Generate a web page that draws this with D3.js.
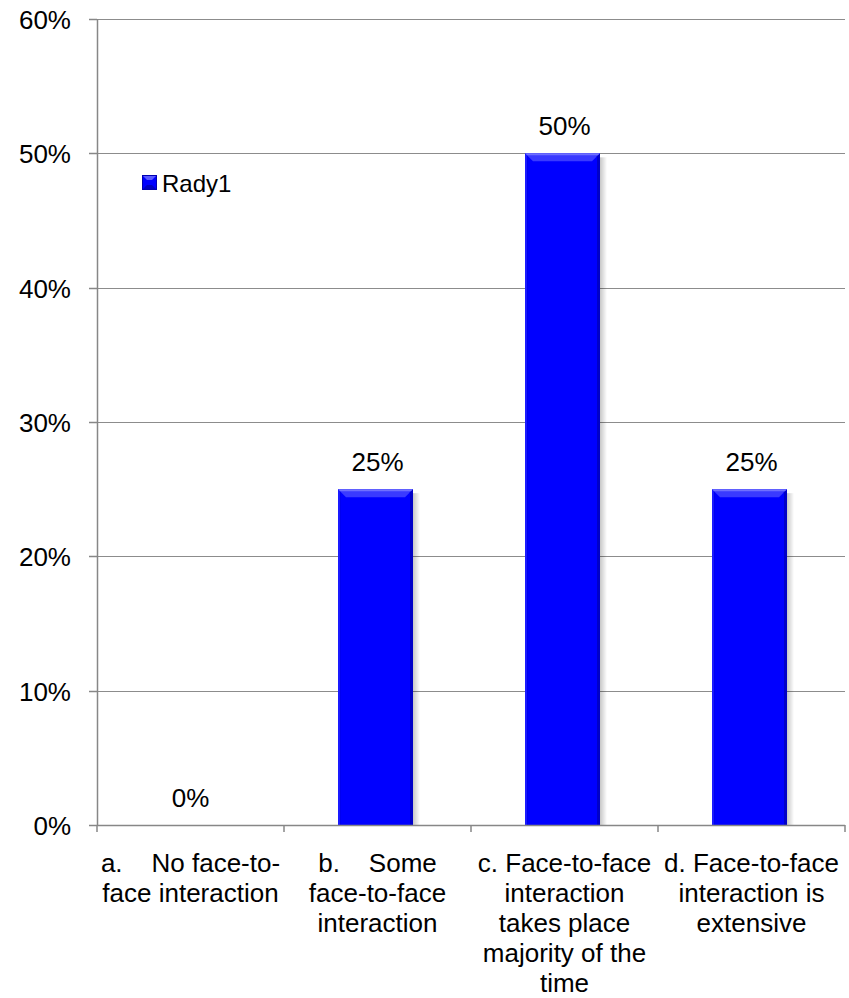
<!DOCTYPE html>
<html><head><meta charset="utf-8">
<script src="https://cdn.jsdelivr.net/npm/d3@7"></script>
<style>body{margin:0;background:#fff;}svg{display:block;font-family:"Liberation Sans",Arial,sans-serif;}</style>
</head><body>
<script>
const categories = [
  ["a.    No face-to-", "face interaction"],
  ["b.    Some", "face-to-face", "interaction"],
  ["c. Face-to-face", "interaction", "takes place", "majority of the", "time"],
  ["d. Face-to-face", "interaction is", "extensive"]
];
const values = [0, 0.25, 0.50, 0.25];
const valueLabels = ["0%", "25%", "50%", "25%"];
const yTicks = [0, 0.1, 0.2, 0.3, 0.4, 0.5, 0.6];
const seriesName = "Rady1";

(function() {
const W = 849, H = 998;
const svg = d3.select("body").append("svg").attr("width", W).attr("height", H);
const mLeft = 97, mRight = 845, mTop = 19, mBottom = 825;
const FS = 26;
const x = d3.scaleBand().domain(d3.range(categories.length)).range([mLeft, mRight]).paddingInner(0).paddingOuter(0);
const y = d3.scaleLinear().domain([0, 0.6]).range([mBottom, mTop]);

const defs = svg.append("defs");
const sh = defs.append("linearGradient").attr("id", "shadow").attr("x1", 0).attr("x2", 1);
sh.append("stop").attr("offset", 0).attr("stop-color", "#000").attr("stop-opacity", 0.22);
sh.append("stop").attr("offset", 1).attr("stop-color", "#000").attr("stop-opacity", 0);

// gridlines
svg.append("g").selectAll("line").data(yTicks.filter(d => d > 0)).join("line")
  .attr("x1", mLeft).attr("x2", mRight).attr("y1", d => Math.round(y(d)) + 0.5).attr("y2", d => Math.round(y(d)) + 0.5)
  .attr("stroke", "#8c8c8c").attr("stroke-width", 1.2);

// bars
const bw = 75;
const bars = svg.append("g").selectAll("g").data(values).join("g");
bars.each(function(v, i) {
  if (v <= 0) return;
  const g = d3.select(this);
  const cx = x(i) + x.bandwidth() / 2 - 2;
  const x0 = cx - bw / 2, x1 = cx + bw / 2, yt = y(v), yb = y(0);
  g.append("rect").attr("x", x1).attr("y", yt + 4).attr("width", 7).attr("height", yb - yt - 4).attr("fill", "url(#shadow)");
  g.append("rect").attr("x", x0).attr("y", yt).attr("width", bw).attr("height", yb - yt).attr("fill", "#0000f0");
  g.append("rect").attr("x", x0 + 3).attr("y", yt + 3).attr("width", bw - 6).attr("height", yb - yt - 3).attr("fill", "#0000ff");
  g.append("path").attr("d", `M${x0},${yt}L${x1},${yt}L${x1 - 8},${yt + 8}L${x0 + 8},${yt + 8}Z`).attr("fill", "#3a3aff");
  g.append("path").attr("d", `M${x0},${yt}L${x1},${yt}L${x1 - 1},${yt + 2}L${x0 + 1},${yt + 2}Z`).attr("fill", "#6f6fff");
  g.append("path").attr("d", `M${x1},${yt}L${x1},${yb}L${x1 - 3},${yb}L${x1 - 3},${yt + 3}Z`).attr("fill", "#0000c8");
  g.append("path").attr("d", `M${x0},${yt}L${x0},${yb}L${x0 + 2},${yb}L${x0 + 2},${yt + 2}Z`).attr("fill", "#1a1aff");
});

// axes
const axisColor = "#878787";
svg.append("line").attr("x1", mLeft + 0.5).attr("x2", mLeft + 0.5).attr("y1", mTop).attr("y2", mBottom + 1).attr("stroke", axisColor).attr("stroke-width", 1.5);
svg.append("line").attr("x1", mLeft).attr("x2", mRight).attr("y1", mBottom + 0.5).attr("y2", mBottom + 0.5).attr("stroke", axisColor).attr("stroke-width", 1.5);
svg.append("g").selectAll("line").data(yTicks).join("line")
  .attr("x1", mLeft - 8).attr("x2", mLeft).attr("y1", d => Math.round(y(d)) + 0.5).attr("y2", d => Math.round(y(d)) + 0.5)
  .attr("stroke", axisColor).attr("stroke-width", 1.5);
const xb = d3.range(categories.length + 1).map(i => i < categories.length ? x(i) : mRight);
svg.append("g").selectAll("line").data(xb).join("line")
  .attr("x1", d => d).attr("x2", d => d).attr("y1", mBottom).attr("y2", mBottom + 7)
  .attr("stroke", axisColor).attr("stroke-width", 1.5);

// y labels
svg.append("g").selectAll("text").data(yTicks).join("text")
  .attr("x", 71).attr("y", d => y(d) + 10).attr("text-anchor", "end")
  .attr("font-size", FS).attr("fill", "#000").text(d => d3.format(".0%")(d));

// value labels
svg.append("g").selectAll("text").data(values).join("text")
  .attr("x", (d, i) => x(i) + x.bandwidth() / 2).attr("y", d => y(d) - 18)
  .attr("text-anchor", "middle").attr("font-size", FS).attr("fill", "#000")
  .text((d, i) => valueLabels[i]);

// category labels
const cl = svg.append("g").selectAll("text").data(categories).join("text")
  .attr("x", (d, i) => x(i) + x.bandwidth() / 2).attr("y", 872)
  .attr("text-anchor", "middle").attr("font-size", FS).attr("fill", "#000")
  .attr("xml:space", "preserve").style("white-space", "pre");
cl.each(function(lines, i) {
  d3.select(this).selectAll("tspan").data(lines).join("tspan")
    .attr("x", x(i) + x.bandwidth() / 2).attr("dy", (d, j) => j === 0 ? 0 : 30).text(d => d);
});

// legend
const lg = svg.append("g");
lg.append("rect").attr("x", 142.5).attr("y", 175.5).attr("width", 14).attr("height", 14).attr("fill", "#0000ff").attr("stroke", "#0000b0").attr("stroke-width", 1);
lg.append("path").attr("d", "M143,176L156,176L152,180L147,180Z").attr("fill", "#5a5aff");
lg.append("path").attr("d", "M143,189L156,189L152,185L147,185Z").attr("fill", "#0000c0");
lg.append("text").attr("x", 162).attr("y", 192).attr("font-size", 24).attr("fill", "#000").text(seriesName);
})();
</script>
</body></html>
